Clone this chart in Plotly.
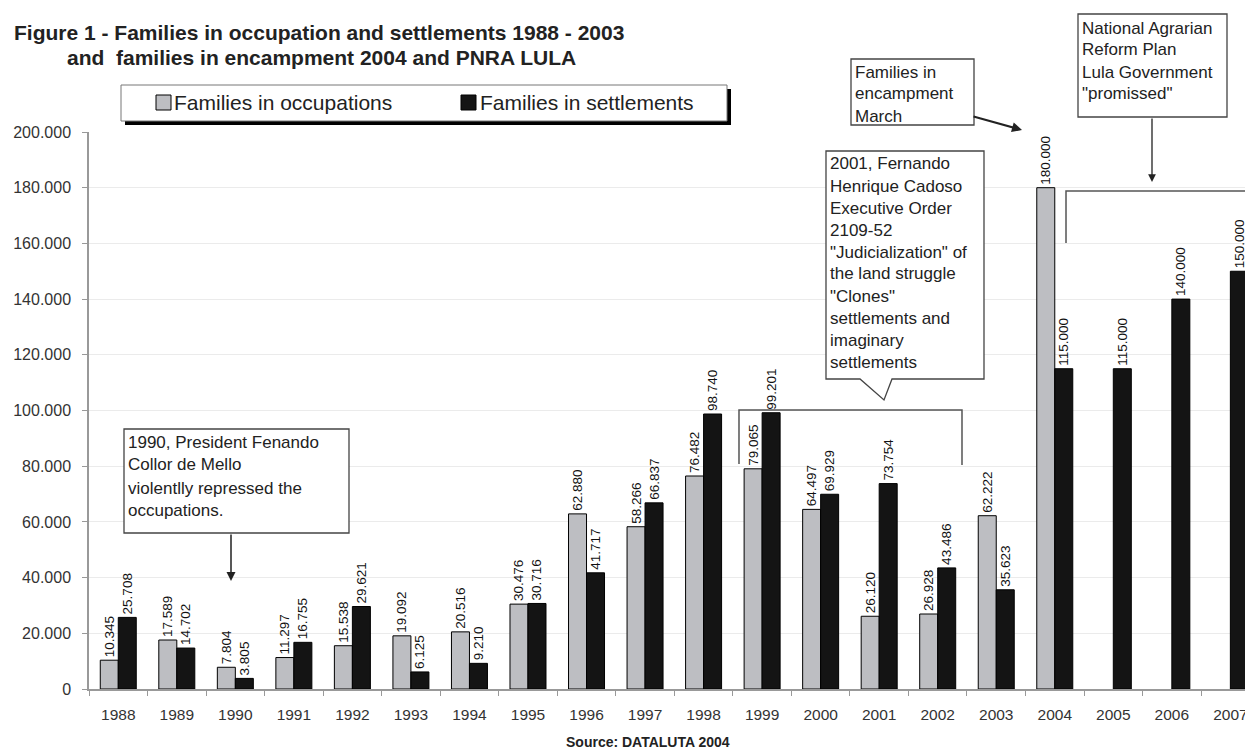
import plotly.graph_objects as go

years = [str(y) for y in range(1988, 2008)]
occupations = [10345, 17589, 7804, 11297, 15538, 19092, 20516, 30476, 62880, 58266,
               76482, 79065, 64497, 26120, 26928, 62222, 180000, None, None, None]
settlements = [25708, 14702, 3805, 16755, 29621, 6125, 9210, 30716, 41717, 66837,
               98740, 99201, 69929, 73754, 43486, 35623, 115000, 115000, 140000, 150000]
series_names = ["Families in occupations", "Families in settlements"]
y_ticks = [0, 20000, 40000, 60000, 80000, 100000, 120000, 140000, 160000, 180000, 200000]

W, H = 1245, 753
L, R, T, B = 89, 1245, 132, 689
FONT = "Arial, Liberation Sans, sans-serif"
GRAY = "#bdbec2"
BLACK = "#141414"


def px(x):
    return (x - L) / (R - L)


def py(y):
    return (B - y) / (B - T)


fig = go.Figure()
for name, vals, col in [(series_names[0], occupations, GRAY), (series_names[1], settlements, BLACK)]:
    fig.add_trace(go.Bar(
        x=years, y=vals, name=name,
        marker=dict(color=col, line=dict(color="#000000", width=1)),
        texttemplate="%{y:,.0f}", textposition="outside", textangle=-90,
        textfont=dict(family=FONT, size=13.5, color="#111111"),
        constraintext="none", cliponaxis=False, showlegend=False,
    ))

shapes = []
annotations = []

# Legend (manual, with shadow)
shapes.append(dict(type="rect", xref="paper", yref="paper", x0=px(125), x1=px(731), y0=py(125), y1=py(89),
                   fillcolor="#000000", line=dict(width=0), layer="above"))
shapes.append(dict(type="rect", xref="paper", yref="paper", x0=px(121), x1=px(727), y0=py(121), y1=py(85),
                   fillcolor="#ffffff", line=dict(color="#777777", width=1), layer="above"))
shapes.append(dict(type="rect", xref="paper", yref="paper", x0=px(156), x1=px(171), y0=py(110), y1=py(95),
                   fillcolor=GRAY, line=dict(color="#000000", width=1), layer="above"))
shapes.append(dict(type="rect", xref="paper", yref="paper", x0=px(461), x1=px(476), y0=py(110), y1=py(95),
                   fillcolor=BLACK, line=dict(color="#000000", width=1), layer="above"))
annotations.append(dict(text=series_names[0], xref="paper", yref="paper", x=px(172), y=py(102),
                        xanchor="left", yanchor="middle", showarrow=False,
                        font=dict(family=FONT, size=21, color="#222222")))
annotations.append(dict(text=series_names[1], xref="paper", yref="paper", x=px(478), y=py(102),
                        xanchor="left", yanchor="middle", showarrow=False,
                        font=dict(family=FONT, size=21, color="#222222")))


def text_box(x0, y0, x1, y1, lines, line_ys, path=None):
    if path is None:
        shapes.append(dict(type="rect", xref="paper", yref="paper", x0=px(x0), x1=px(x1), y0=py(y1), y1=py(y0),
                           fillcolor="#ffffff", line=dict(color="#444444", width=1.3), layer="above"))
    else:
        shapes.append(dict(type="path", xref="paper", yref="paper", path=path,
                           fillcolor="#ffffff", line=dict(color="#444444", width=1.3), layer="above"))
    for t, yy in zip(lines, line_ys):
        annotations.append(dict(text=t, xref="paper", yref="paper", x=px(x0 + 2), y=py(yy),
                                xanchor="left", yanchor="middle", showarrow=False,
                                font=dict(family=FONT, size=17, color="#222222")))


def pth(points):
    s = ""
    for i, (x, y) in enumerate(points):
        s += ("M" if i == 0 else "L") + f"{px(x):.5f},{py(y):.5f} "
    return s


# 1990 box
text_box(124, 429, 349, 533,
         ["1990, President Fenando", "Collor de Mello", "violentlly repressed the", "occupations."],
         [442, 465, 488, 510])
annotations.append(dict(text="", xref="paper", yref="paper", x=px(231), y=py(581), ax=0, ay=-48,
                        showarrow=True, arrowhead=2, arrowsize=1.2, arrowwidth=1.5, arrowcolor="#222222"))

# 2001 callout box
callout = pth([(826, 151), (984, 151), (984, 379), (892, 379), (884, 400), (860, 379), (826, 379)]) + "Z"
text_box(826, 151, 984, 379,
         ["2001, Fernando", "Henrique Cadoso", "Executive Order", "2109-52", "\"Judicialization\" of",
          "the land struggle", "\"Clones\"", "settlements and", "imaginary", "settlements"],
         [164, 186, 208, 230, 252, 273, 296, 318, 340, 362], path=callout)
shapes.append(dict(type="path", xref="paper", yref="paper",
                   path=pth([(739, 464), (739, 410), (962, 410), (962, 465)]),
                   line=dict(color="#555555", width=1.5), layer="above"))

# Encampment box
text_box(851, 59, 974, 125, ["Families in", "encampment", "March"], [72, 94, 116])
annotations.append(dict(text="", xref="paper", yref="paper", x=px(1022), y=py(130), ax=-50, ay=-14,
                        showarrow=True, arrowhead=2, arrowsize=1, arrowwidth=2, arrowcolor="#222222"))

# National Agrarian Reform Plan box
text_box(1078, 14, 1227, 117, ["National Agrarian", "Reform Plan", "Lula Government", "\"promissed\""],
         [28, 50, 72, 94])
annotations.append(dict(text="", xref="paper", yref="paper", x=px(1152), y=py(182), ax=0, ay=-65,
                        showarrow=True, arrowhead=2, arrowsize=1.2, arrowwidth=1.3, arrowcolor="#222222"))
shapes.append(dict(type="path", xref="paper", yref="paper",
                   path=pth([(1066, 243), (1066, 191), (1260, 191)]),
                   line=dict(color="#555555", width=1.5), layer="above"))

# Title
annotations.append(dict(text="<b>Figure 1 - Families in occupation and settlements 1988 - 2003</b>",
                        xref="paper", yref="paper", x=px(12), y=py(33), xanchor="left", yanchor="middle",
                        showarrow=False, font=dict(family=FONT, size=21, color="#222222")))
annotations.append(dict(text="<b>and  families in encampment 2004 and PNRA LULA</b>",
                        xref="paper", yref="paper", x=px(65), y=py(57), xanchor="left", yanchor="middle",
                        showarrow=False, font=dict(family=FONT, size=21, color="#222222")))
# Source
annotations.append(dict(text="<b>Source: DATALUTA 2004</b>", xref="paper", yref="paper", x=px(648), y=py(742),
                        xanchor="center", yanchor="middle", showarrow=False,
                        font=dict(family=FONT, size=14, color="#222222")))

fig.update_layout(
    width=W, height=H,
    margin=dict(l=L, r=W - R, t=T, b=H - B, autoexpand=False),
    paper_bgcolor="#ffffff", plot_bgcolor="#ffffff",
    barmode="group", bargap=0.385, bargroupgap=0,
    separators=",.",
    showlegend=False,
    shapes=shapes, annotations=annotations,
    font=dict(family=FONT, color="#333333"),
)
fig.update_xaxes(type="category", range=[-0.5, 19.25], showline=True, linecolor="#999999", linewidth=1.5,
                 ticks="outside", tickson="boundaries", ticklen=5, tickcolor="#999999",
                 tickfont=dict(family=FONT, size=15.5, color="#333333"), ticklabelstandoff=11,
                 showgrid=False)
fig.update_yaxes(range=[0, 200000], tickvals=y_ticks, tickformat=",.0f", showline=True,
                 linecolor="#999999", linewidth=1.5, ticks="outside", ticklen=5, tickcolor="#999999",
                 tickfont=dict(family=FONT, size=16, color="#333333"), ticklabelstandoff=8,
                 showgrid=True, gridcolor="#ebebeb", gridwidth=1, zeroline=False)

fig.write_html("out.html")
